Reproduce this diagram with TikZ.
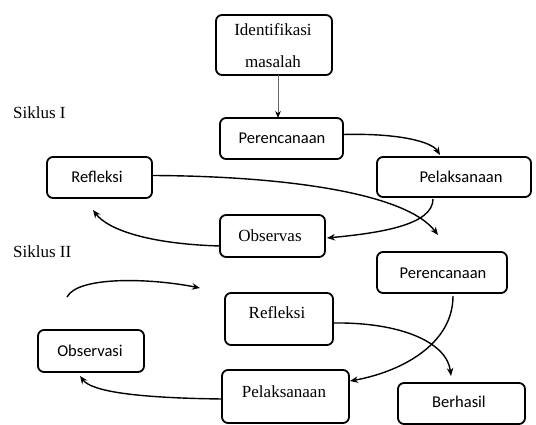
\documentclass[tikz,border=0pt]{standalone}
\usepackage{fontspec}
\setmainfont{Liberation Serif}
\newfontfamily\carl{Carlito}
\usetikzlibrary{arrows.meta,calc}
\begin{document}
\begin{tikzpicture}[x=1pt,y=-1pt,
  box/.style={draw,line width=1.8pt,rounded corners=6pt,inner sep=0pt,outer sep=0pt,anchor=north west},
  sertxt/.style={font=\fontsize{17}{20}\selectfont,inner sep=0pt},
  santxt/.style={font=\carl\fontsize{16.5}{20}\selectfont,inner sep=0pt},
  arr/.style={line width=1.4pt,-{Stealth[length=8pt,width=6.5pt]}},
  thinarr/.style={line width=0.6pt,draw=black!60,-{Stealth[length=7pt,width=5.5pt,color=black,fill=black]}}]
\useasboundingbox[fill=white] (0,0) rectangle (536,425);
% boxes
\node[box,minimum width=116pt,minimum height=60pt] (idm) at (216,15) {};
\node[box,minimum width=123pt,minimum height=41pt] (per1) at (220,118) {};
\node[box,minimum width=154pt,minimum height=40pt] (pel1) at (377,157) {};
\node[box,minimum width=105pt,minimum height=41pt] (ref1) at (47,157) {};
\node[box,minimum width=105pt,minimum height=42pt] (obs1) at (220,215) {};
\node[box,minimum width=130pt,minimum height=41pt] (per2) at (377,252) {};
\node[box,minimum width=108pt,minimum height=52pt] (ref2) at (225,293) {};
\node[box,minimum width=106pt,minimum height=42pt] (obsv) at (38,330) {};
\node[box,minimum width=127pt,minimum height=53pt] (pel2) at (222,370) {};
\node[box,minimum width=127pt,minimum height=41pt] (ber) at (398,383) {};
% texts
\node[sertxt] (idmt1) at (273,30) {Identifikasi};
\node[sertxt] (idmt2) at (273,62) {masalah};
\node[santxt] (per1t) at (282,138) {Perencanaan};
\node[santxt] (pel1t) at (461,177) {Pelaksanaan};
\node[santxt] (ref1t) at (97,177) {Refleksi};
\node[sertxt] (obs1t) at (270,236) {Observas};
\node[santxt] (per2t) at (443,273) {Perencanaan};
\node[sertxt] (ref2t) at (277,313) {Refleksi};
\node[santxt] (obsvt) at (90,351) {Observasi};
\node[sertxt] (pel2t) at (284,392) {Pelaksanaan};
\node[santxt] (bert) at (459,402) {Berhasil};
\node[sertxt,anchor=west] (sik1) at (13,113) {Siklus I};
\node[sertxt,anchor=west] (sik2) at (13,252) {Siklus II};
% connectors
\draw[thinarr] ($(idm.south)+(4,0)$) -- ($(per1.north)+(-3.5,0)$);
\draw[arr] ($(per1.east)+(0,-4)$) .. controls (400,133) and (432,142) .. ($(pel1.north)+(-14,-2)$);
\draw[arr] ($(pel1.south)+(-21,2)$) .. controls (433,225) and (380,233) .. ($(obs1.east)+(2,2)$);
\draw[arr] ($(ref1.east)+(0,-2)$) .. controls (280,176) and (405,192) .. ($(per2.north)+(-4,-17)$);
\draw[arr] ($(obs1.west)+(0,10)$) .. controls (150,244) and (108,230) .. ($(ref1.south)+(-6.5,12)$);
\coordinate (fa) at (67,297);
\coordinate (fb) at (200,288);
\draw[arr] (fa) .. controls (78,276) and (150,278) .. (fb);
\draw[arr] ($(per2.south)+(11,3)$) .. controls (453,345) and (400,372) .. ($(pel2.east)+(1,-15.5)$);
\draw[arr] ($(ref2.east)+(0,4)$) .. controls (400,322) and (447,342) .. ($(ber.north)+(-10.5,-7)$);
\draw[arr] ($(pel2.west)+(0,2.5)$) .. controls (140,398) and (92,392) .. ($(obsv.south)+(-11,4)$);
\end{tikzpicture}
\end{document}
